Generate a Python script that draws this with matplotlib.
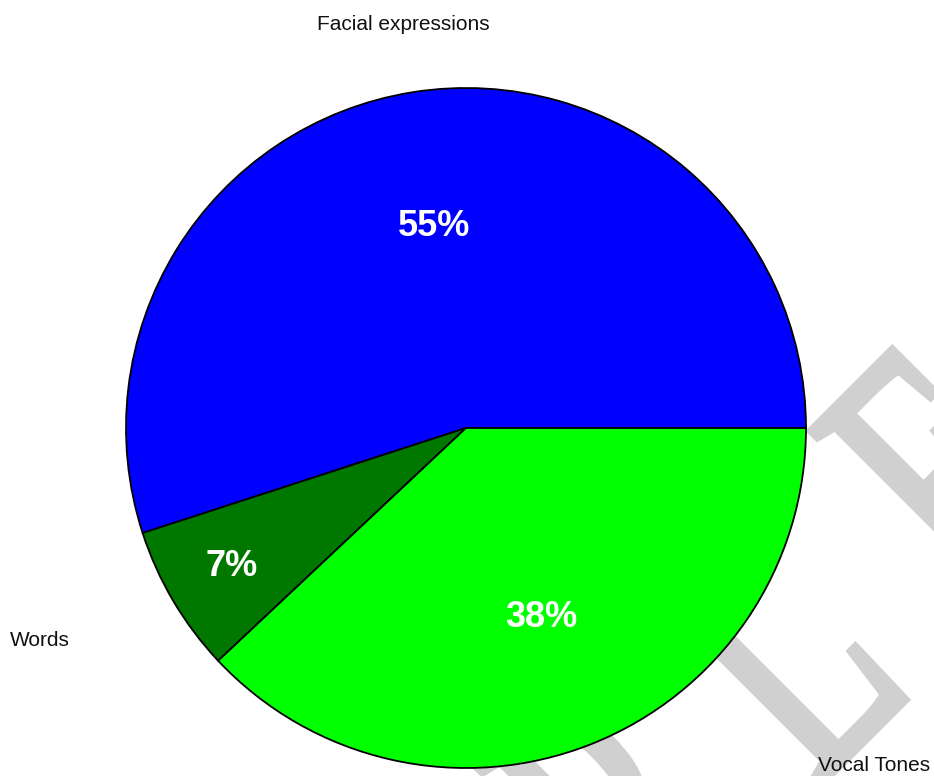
import numpy as np
import matplotlib
matplotlib.use("Agg")
import matplotlib.pyplot as plt
from matplotlib.textpath import TextPath
from matplotlib.patches import PathPatch
from matplotlib.font_manager import FontProperties
from matplotlib.transforms import Affine2D

labels = ["Facial expressions", "Words", "Vocal Tones"]
shares = [55, 7, 38]
colors = ["#0000ff", "#007800", "#00ff00"]
pct_text = ["55%", "7%", "38%"]

W, H, DPI = 934, 776, 100
CX, CY, R = 466, 428, 340          # pie centre / radius in pixels

plt.rcParams["font.family"] = ["Liberation Sans", "DejaVu Sans"]

fig = plt.figure(figsize=(W / DPI, H / DPI), dpi=DPI)

# "SAMPLE" watermark (condensed serif, wide tracking, 45 deg), behind the pie
wm_word = "SAMPLE"
wm_adv = [0.556, 0.722, 0.889, 0.556, 0.611, 0.611]   # Times advances (em)
EM, SX, TRACK = 394, 0.6, 99
OX, OY = 80.5, -749.5                                  # baseline origin, display px
fp = FontProperties(family="Liberation Serif")
xpos = 0.0
for ch, adv in zip(wm_word, wm_adv):
    p = TextPath((0, 0), ch, size=EM, prop=fp)
    tr = Affine2D().scale(SX, 1).translate(xpos, 0).rotate_deg(45).translate(OX, OY)
    fig.add_artist(PathPatch(p, transform=tr, facecolor="#d0d0d0",
                             edgecolor="#d0d0d0", linewidth=5, zorder=0))
    xpos += adv * EM * SX + TRACK

ax = fig.add_axes([(CX - R) / W, (H - CY - R) / H, 2 * R / W, 2 * R / H])
ax.set_zorder(1)
ax.patch.set_alpha(0)
wedges, _ = ax.pie(shares, colors=colors, startangle=0, counterclock=True,
                   wedgeprops=dict(edgecolor="black", linewidth=1.3))
ax.set_xlim(-1, 1); ax.set_ylim(-1, 1)
ax.set_aspect("equal")
ax.axis("off")

# percentage labels, at mid-angle of each wedge
pct_dist = [0.6, 0.8, 0.6]
for w, txt, d in zip(wedges, pct_text, pct_dist):
    a = np.deg2rad((w.theta1 + w.theta2) / 2)
    ax.text(d * np.cos(a), d * np.sin(a), txt, color="white", fontsize=26,
            fontweight="bold", ha="center", va="center")

# category labels outside the pie
label_pos = [(-0.185, 1.188), (-1.253, -0.624), (1.2, -0.994)]
for txt, (x, y) in zip(labels, label_pos):
    ax.text(x, y, txt, fontsize=15, color="#111111", ha="center", va="center",
            clip_on=False)

fig.savefig("out.png", dpi=DPI)
